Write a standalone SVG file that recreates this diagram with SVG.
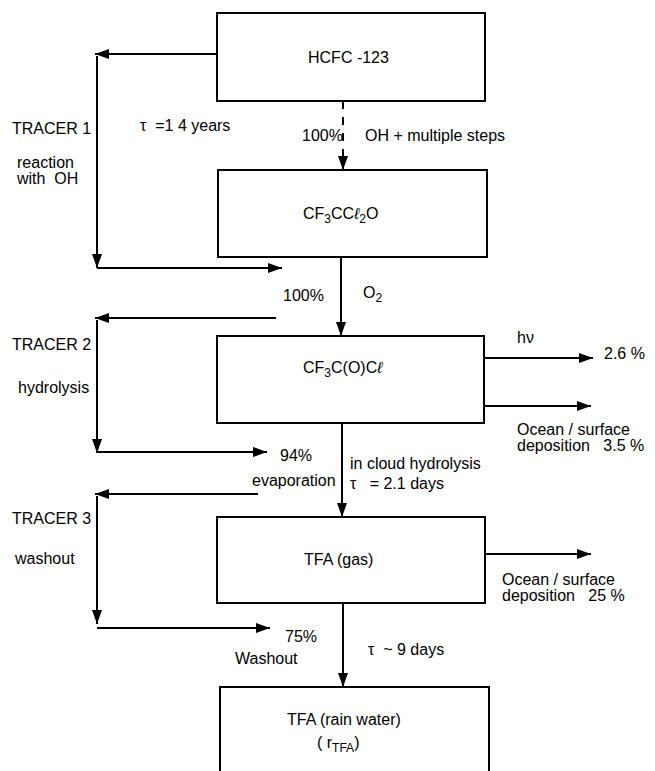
<svg xmlns="http://www.w3.org/2000/svg" width="655" height="771" viewBox="0 0 655 771">
<style>
text{font-family:"Liberation Sans",Arial,sans-serif;font-size:16px;fill:#000;white-space:pre}
.box{fill:#fff;stroke:#000;stroke-width:2}
.ln{fill:none;stroke:#000;stroke-width:2}
.ar{fill:none;stroke:#000;stroke-width:2;marker-end:url(#ah)}
.sub{font-size:12px}
</style>
<defs>
<marker id="ah" markerUnits="userSpaceOnUse" markerWidth="16" markerHeight="12" refX="14" refY="5" orient="auto">
<path d="M0,0 L14,5 L0,10 Z" fill="#000"/>
</marker>
</defs>
<rect width="655" height="771" fill="#fff"/>
<g id="connectors">
<path class="ar" d="M217,54 H95"/>
<path class="ar" d="M97,56 V268"/>
<path class="ar" d="M97,268 H282"/>
<path class="ar" d="M343,101 V170" stroke-dasharray="8,8"/>
<path class="ar" d="M341,257 V336"/>
<path class="ar" d="M276,318 H95"/>
<path class="ar" d="M97,320 V453"/>
<path class="ar" d="M97,452 H267"/>
<path class="ar" d="M484,358 H593"/>
<path class="ar" d="M484,406 H591"/>
<path class="ar" d="M342,423 V517"/>
<path class="ar" d="M258,494 H95"/>
<path class="ar" d="M97,496 V624"/>
<path class="ar" d="M97,628 H270"/>
<path class="ar" d="M485,554 H591"/>
<path class="ar" d="M343,603 V687"/>
</g>
<g id="hcfc123">
<rect class="box" x="217" y="13" width="268" height="88"/>
<text x="308" y="63">HCFC -123</text>
</g>
<g id="cf3ccl2o">
<rect class="box" x="218" y="170" width="269" height="87"/>
<text x="303" y="219">CF<tspan class="sub" dy="4">3</tspan><tspan dy="-4">CC</tspan><tspan font-style="italic">ℓ</tspan><tspan class="sub" dy="4">2</tspan><tspan dy="-4">O</tspan></text>
</g>
<g id="cf3cocl">
<rect class="box" x="217" y="336" width="267" height="87"/>
<text x="303" y="373">CF<tspan class="sub" dy="4">3</tspan><tspan dy="-4">C(O)C</tspan><tspan font-style="italic">ℓ</tspan></text>
</g>
<g id="tfagas">
<rect class="box" x="217" y="517" width="268" height="86"/>
<text x="304" y="565">TFA (gas)</text>
</g>
<g id="tfarain">
<rect class="box" x="220" y="687" width="269" height="100"/>
<text x="287" y="725">TFA (rain water)</text>
<text x="317" y="748">( r<tspan class="sub" dy="4">TFA</tspan><tspan dy="-4">)</tspan></text>
</g>
<g id="labels">
<text x="12" y="134">TRACER 1</text>
<text x="17" y="168">reaction</text>
<text x="17" y="184">with  OH</text>
<text x="140" y="131">τ  =1 4 years</text>
<text x="302" y="141">100%</text>
<text x="365" y="141">OH + multiple steps</text>
<text x="283" y="301">100%</text>
<text x="363" y="298">O<tspan class="sub" dy="4">2</tspan></text>
<text x="12" y="350">TRACER 2</text>
<text x="18" y="393">hydrolysis</text>
<text x="517" y="343">hν</text>
<text x="604" y="359">2.6 %</text>
<text x="517" y="435">Ocean / surface</text>
<text x="517" y="451">deposition   3.5 %</text>
<text x="280" y="461">94%</text>
<text x="252" y="486">evaporation</text>
<text x="350" y="469">in cloud hydrolysis</text>
<text x="350" y="489">τ   = 2.1 days</text>
<text x="12" y="524">TRACER 3</text>
<text x="15" y="564">washout</text>
<text x="502" y="585">Ocean / surface</text>
<text x="502" y="601">deposition   25 %</text>
<text x="285" y="642">75%</text>
<text x="235" y="664">Washout</text>
<text x="368" y="655">τ  ~ 9 days</text>
</g>
</svg>
